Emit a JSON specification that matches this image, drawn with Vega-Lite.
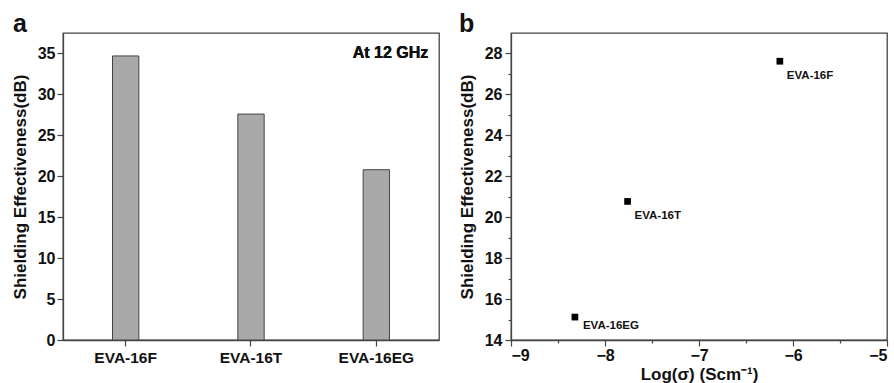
{
  "$schema": "https://vega.github.io/schema/vega-lite/v6.json",
  "padding": {"left": 10, "top": 11, "right": 0, "bottom": 2},
  "background": "white",
  "config": {
    "view": {"stroke": "#444", "strokeWidth": 1.3},
    "font": "Liberation Sans",
    "axis": {
      "grid": false,
      "domainColor": "#444",
      "domainWidth": 1.3,
      "tickColor": "#444",
      "tickWidth": 1.2,
      "labelFont": "Liberation Sans",
      "labelFontWeight": "bold",
      "labelFontSize": 16,
      "labelColor": "#111",
      "titleFont": "Liberation Sans",
      "titleFontWeight": "bold",
      "titleFontSize": 17,
      "titleColor": "#111",
      "labelOverlap": false
    }
  },
  "spacing": 72,
  "bounds": "flush",
  "hconcat": [
    {
      "width": 376,
      "height": 307,
      "title": {"text": "a", "anchor": "start", "frame": "group", "fontSize": 25, "fontWeight": "bold", "dx": -50, "offset": -24, "baseline": "alphabetic", "color": "#111", "font": "Liberation Sans"},
      "data": {"values": [
        {"sample": "EVA-16F", "se": 34.7},
        {"sample": "EVA-16T", "se": 27.6},
        {"sample": "EVA-16EG", "se": 20.8}
      ]},
      "layer": [
        {
          "mark": {"type": "bar", "fill": "#a9a9a9", "stroke": "#444", "strokeWidth": 1},
          "encoding": {
            "x": {"field": "sample", "type": "nominal", "sort": null,
              "scale": {"paddingInner": 0.79, "paddingOuter": 0.395},
              "axis": {"title": null, "labelAngle": 0, "tickSize": 6, "labelPadding": 4, "labelFontSize": 15.5}},
            "y": {"field": "se", "type": "quantitative",
              "scale": {"domain": [0, 37.5], "nice": false},
              "axis": {"title": "Shielding Effectiveness(dB)",
                "values": [0, 2.5, 5, 7.5, 10, 12.5, 15, 17.5, 20, 22.5, 25, 27.5, 30, 32.5, 35],
                "format": ".0f",
                "labelExpr": "datum.value % 5 === 0 ? datum.label : ''",
                "tickSize": {"condition": {"test": "datum.value % 5 === 0", "value": 6}, "value": 3},
                "labelPadding": 2, "titlePadding": 8}}
          }
        },
        {
          "mark": {"type": "text", "text": "At 12 GHz", "align": "right", "baseline": "alphabetic", "dx": 52, "fontSize": 16, "fontWeight": "bold", "color": "#111"},
          "encoding": {"x": {"datum": "EVA-16EG"}, "y": {"datum": 34.4}}
        }
      ]
    },
    {
      "width": 376,
      "height": 307,
      "title": {"text": "b", "anchor": "start", "frame": "group", "fontSize": 25, "fontWeight": "bold", "dx": -52, "offset": -24, "baseline": "alphabetic", "color": "#111", "font": "Liberation Sans"},
      "data": {"values": [
        {"sample": "EVA-16F", "logs": -6.14, "se": 27.62},
        {"sample": "EVA-16T", "logs": -7.76, "se": 20.77},
        {"sample": "EVA-16EG", "logs": -8.32, "se": 15.12}
      ]},
      "encoding": {
        "x": {"field": "logs", "type": "quantitative",
          "scale": {"domain": [-9, -5], "nice": false},
          "axis": {"title": "Log(σ) (Scm⁻¹)",
            "values": [-9, -8.5, -8, -7.5, -7, -6.5, -6, -5.5, -5],
            "format": ".0f",
            "labelExpr": "datum.value % 1 === 0 ? datum.label : ''",
            "tickSize": {"condition": {"test": "datum.value % 1 === 0", "value": 6}, "value": 3},
            "labelPadding": 1, "titlePadding": 3}},
        "y": {"field": "se", "type": "quantitative",
          "scale": {"domain": [14, 29], "nice": false},
          "axis": {"title": "Shielding Effectiveness(dB)",
            "values": [14, 15, 16, 17, 18, 19, 20, 21, 22, 23, 24, 25, 26, 27, 28],
            "labelExpr": "datum.value % 2 === 0 ? datum.label : ''",
            "tickSize": {"condition": {"test": "datum.value % 2 === 0", "value": 6}, "value": 3},
            "labelPadding": 3, "titlePadding": 8}}
      },
      "layer": [
        {"mark": {"type": "point", "shape": "square", "filled": true, "size": 45, "color": "#000", "opacity": 1}},
        {
          "transform": [{"filter": "datum.sample !== 'EVA-16EG'"}],
          "mark": {"type": "text", "align": "left", "baseline": "alphabetic", "dx": 7, "dy": 18, "fontSize": 11.5, "fontWeight": "bold", "color": "#111"},
          "encoding": {"text": {"field": "sample"}}
        },
        {
          "transform": [{"filter": "datum.sample === 'EVA-16EG'"}],
          "mark": {"type": "text", "align": "left", "baseline": "alphabetic", "dx": 8, "dy": 12, "fontSize": 11.5, "fontWeight": "bold", "color": "#111"},
          "encoding": {"text": {"field": "sample"}}
        }
      ]
    }
  ]
}
